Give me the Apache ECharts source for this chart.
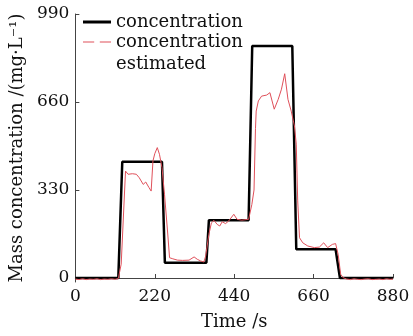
<!DOCTYPE html>
<html>
<head>
<meta charset="utf-8">
<script src="https://cdn.jsdelivr.net/npm/echarts@6/dist/echarts.min.js"></script>
<style>
html,body{margin:0;padding:0;background:#fff;}
#chart{width:413px;height:336px;}
</style>
</head>
<body>
<div id="chart"></div>
<script>
// Reference concentration (step profile): [time s, mg/L]
const concTime  = [0, 119, 130, 240, 248, 363, 370, 480, 490, 601, 612, 721, 733, 880];
const concValue = [0, 0, 436, 436, 57, 57, 217, 217, 870, 870, 108, 108, 0, 0];

// Estimated concentration: [time s, mg/L]
const estTime  = [0, 10, 20, 30, 40, 50, 60, 70, 80, 90, 100, 110, 119, 127, 139, 146, 158, 169, 177, 188,
  195, 204, 210, 215, 220, 227, 233, 240, 247, 256, 261, 270, 283, 297, 315, 329, 338, 347, 356, 361,
  370, 377, 384, 393, 400, 407, 416, 425, 439, 448, 461, 480, 489, 495, 499, 501, 507, 516, 530, 539,
  551, 562, 571, 580, 589, 598, 607, 612, 616, 621, 630, 644, 662, 676, 688, 699, 712, 721, 728, 735,
  742, 752, 762, 772, 782, 792, 802, 812, 822, 832, 842, 852, 862, 872, 880];
const estValue = [-4, -6, -3, -6, -4, -5, -3, -6, -4, -5, -3, -5, -2, 52, 401, 389, 391, 389, 376, 351,
  360, 339, 326, 439, 466, 489, 464, 414, 314, 165, 76, 72, 67, 66, 67, 79, 70, 64, 60, 82,
  164, 207, 216, 201, 195, 211, 204, 214, 239, 220, 217, 220, 276, 330, 560, 626, 664, 682, 686, 695,
  633, 670, 708, 766, 670, 626, 570, 502, 289, 151, 132, 120, 114, 116, 132, 114, 126, 129, 89, 14,
  1, -4, -6, -3, -5, -6, -4, -3, -6, -5, -4, -6, -3, -5, -4];

const yTicks = [0, 330, 660, 990];
const xTicks = [0, 220, 440, 660, 880];

const FONT = 'DejaVu Serif';
const chart = echarts.init(document.getElementById('chart'), null, {renderer: 'canvas'});
const option = {
  animation: false,
  backgroundColor: '#fff',
  grid: {left: 71, right: 20, top: 14, bottom: 54},
  legend: [{
    data: [{name: 'concentration', icon: 'path://M0,0H28V3H0Z'}],
    orient: 'vertical', left: 78, top: 8,
    itemWidth: 28, itemHeight: 3, itemGap: 0,
    textStyle: {fontFamily: FONT, fontSize: 18, color: '#111'}
  }, {
    data: [{name: 'concentration estimated', icon: 'path://M0,0H10V1H0Z M15,0H25V1H15Z'}],
    orient: 'vertical', left: 78, top: 4,
    itemWidth: 28, itemHeight: 1.2,
    formatter: () => '\nconcentration\nestimated',
    textStyle: {fontFamily: FONT, fontSize: 18, color: '#111', lineHeight: 22}
  }],
  xAxis: {
    type: 'value', min: 0, max: 880, interval: 220,
    name: 'Time /s', nameLocation: 'middle', nameGap: 31,
    nameTextStyle: {fontFamily: FONT, fontSize: 18, color: '#111'},
    axisLine: {lineStyle: {color: '#444', width: 1}},
    axisTick: {inside: true, length: 4, lineStyle: {color: '#444'}},
    axisLabel: {fontFamily: FONT, fontSize: 17, color: '#111', margin: 6,
      customValues: xTicks},
    splitLine: {show: false}
  },
  yAxis: {
    type: 'value', min: -15, max: 990,
    name: 'Mass concentration /(mg\u00B7L\u207B\u00B9)', nameLocation: 'middle', nameGap: 45,
    nameTextStyle: {fontFamily: FONT, fontSize: 18, color: '#111'},
    axisLine: {show: true, lineStyle: {color: '#444', width: 1}},
    axisTick: {show: true, inside: true, length: 4, lineStyle: {color: '#444'}, customValues: yTicks},
    axisLabel: {fontFamily: FONT, fontSize: 17, color: '#111', margin: 6, customValues: yTicks},
    splitLine: {show: false}
  },
  series: [{
    name: 'concentration', type: 'line', showSymbol: false, symbol: 'none',
    data: concTime.map((t, i) => [t, concValue[i]]),
    lineStyle: {color: '#000', width: 2.5},
    itemStyle: {color: '#000'},
    z: 2
  }, {
    name: 'concentration estimated', type: 'line', showSymbol: false, symbol: 'none',
    data: estTime.map((t, i) => [t, estValue[i]]),
    lineStyle: {color: '#e0505a', width: 1},
    itemStyle: {color: '#e0505a'},
    z: 3
  }]
};
chart.setOption(option);
</script>
</body>
</html>
